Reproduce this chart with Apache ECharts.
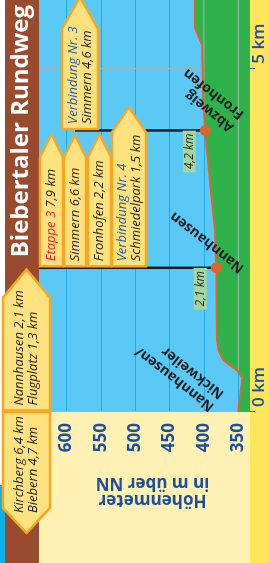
<!DOCTYPE html>
<html lang="de">
<head>
<meta charset="UTF-8">
<title>Biebertaler Rundweg – Höhenprofil</title>
<script src="https://cdn.jsdelivr.net/npm/echarts@6.0.0/dist/echarts.min.js"></script>
<style>
  html, body { margin: 0; padding: 0; width: 269px; height: 563px; overflow: hidden; background: #fff; }
  /* the profile is drawn landscape and turned a quarter to the left, like on the printed sign */
  #chart {
    position: absolute; left: 0; top: 0;
    width: 563px; height: 269px;
    transform-origin: 0 0;
    transform: translate(0, 563px) rotate(-90deg);
  }
</style>
</head>
<body>
<div id="chart"></div>
<script>
// Höhenprofil
const distKm = [0, 0.28, 0.5, 0.6, 0.76, 0.9, 1.05, 2.1, 2.65, 3.24, 3.97, 4.1, 4.55, 5.35, 5.6, 6.0];
const elevM  = [350, 347, 344, 351, 372, 379, 381, 382, 384, 390, 397, 398, 401, 403, 413, 413];

// Punkte mit Wegweiser
const markerKm   = [2.1, 4.1];
const markerElev = [382, 398];
const markerText = ['2,1 km', '4,2 km'];

// Ortsnamen
const placeKm    = [0, 2.1, 4.1];
const placeElev  = [350, 382, 398];
const placeNames = ['Nannhausen/\nNickweiler', 'Nannhausen', 'Abzweig\nFronhofen'];

// Achsen
const elevTicks    = [350, 400, 450, 500, 550, 600];
const kmTicks      = [0, 5];
const kmTickLabels = ['0 km', '5 km'];

// Wegweiser-Schilder
const signTexts = [
  'Kirchberg 6,4 km\nBiebern 4,7 km',
  'Nannhausen 2,1 km\nFlugplatz 1,3 km',
  '{red|Etappe 3} 7,9 km',
  'Simmern 6,6 km',
  'Fronhofen 2,2 km',
  '{blue|Verbindung Nr. 4}\nSchmiedelpark 1,5 km',
  '{blue|Verbindung Nr. 3}\nSimmern 4,6 km'
];
const signKm  = [0, 0, 2.1, 2.1, 2.1, 2.1, 4.1];
const signDir = [-1, 1, 1, 1, 1, 1, 1];

const FONT = '"Open Sans", "DejaVu Sans", sans-serif';
const BLUE = '#1d4f9f';

// layout of the signs: top, height, body length, tip length (px)
const signBoxes = [
  [3, 47, 96, 25],
  [3, 47, 113, 28],
  [40, 23, 109, 23],
  [64, 22, 109, 22],
  [88, 23, 109, 23],
  [112, 34, 134, 25],
  [62, 36, 100, 32]
];
// where the black post line ends at the top (px), one per marker
const connectorTop = [39, 75];
// label offsets from their point (px)
const placeOffset = [[10, -21], [-2, 26], [8, 32]];

// grey grid lines where they run through the ground
const groundLines = [];
elevTicks.forEach(function (level) {
  for (let i = 0; i < distKm.length - 1; i++) {
    const x0 = distKm[i], x1 = distKm[i + 1], y0 = elevM[i], y1 = elevM[i + 1];
    if (y0 < level && y1 < level) continue;
    const cross = y1 === y0 ? x0 : x0 + (level - y0) / (y1 - y0) * (x1 - x0);
    groundLines.push([y0 >= level ? x0 : cross, y1 >= level ? x1 : cross, level]);
  }
});

const signText = { fontStyle: 'italic', fontSize: 13, fontFamily: FONT, lineHeight: 14 };
const signRich = {
  red: Object.assign({ fill: '#ec1c24', color: '#ec1c24' }, signText),
  blue: Object.assign({ fill: '#1f5bb0', color: '#1f5bb0' }, signText)
};

function renderSign(params, api) {
  const i = params.dataIndex;
  const d = signDir[i];
  // posts pointing forward sit just right of their black line
  const base = api.coord([signKm[i], 500])[0] + (d > 0 ? 1.5 : 0);
  const b = signBoxes[i];
  const top = b[0], h = b[1];
  const end = base + d * b[2];
  const mid = top + h / 2;
  const pts = [[base, top], [end, top], [end + d * b[3], mid], [end, top + h], [base, top + h]];
  return {
    type: 'group',
    children: [
      {
        type: 'polygon',
        shape: { points: pts },
        style: { fill: '#ffe27e', stroke: '#f6a623', lineWidth: 2.5 }
      },
      {
        type: 'text',
        x: d > 0 ? base + 5 : end - 5,
        y: mid,
        style: Object.assign({
          text: signTexts[i], rich: signRich, fill: '#1e1e1e',
          align: 'left', verticalAlign: 'middle'
        }, signText)
      }
    ]
  };
}

function renderConnector(params, api) {
  const i = params.dataIndex;
  const p = api.coord([markerKm[i], markerElev[i]]);
  return {
    type: 'line',
    shape: { x1: p[0], y1: p[1], x2: p[0], y2: connectorTop[i] },
    style: { stroke: '#1e1e1e', lineWidth: 2.5 }
  };
}

function renderPlace(params, api) {
  const i = params.dataIndex;
  const p = api.coord([placeKm[i], placeElev[i]]);
  return {
    type: 'text',
    x: p[0] + placeOffset[i][0],
    y: p[1] + placeOffset[i][1],
    rotation: 52 * Math.PI / 180,
    style: {
      text: placeNames[i], fill: '#1e1e1e', fontWeight: 'bold', fontSize: 14,
      fontFamily: FONT, lineHeight: 16, align: 'left', verticalAlign: 'middle'
    }
  };
}

function renderGround(params, api) {
  const a = api.coord([api.value(0), api.value(2)]);
  const b = api.coord([api.value(1), api.value(2)]);
  return {
    type: 'line',
    shape: { x1: a[0], y1: a[1], x2: b[0], y2: b[1] },
    style: { stroke: '#a9b8a9', lineWidth: 1 }
  };
}

const chart = echarts.init(document.getElementById('chart'));

chart.setOption({
  animation: false,
  backgroundColor: '#ffffff',
  title: {
    text: 'Biebertaler Rundweg',
    right: 5,
    top: 9,
    padding: 0,
    textStyle: { color: '#ffffff', fontSize: 24, fontWeight: 'bold', fontFamily: FONT }
  },
  grid: {
    left: 151, right: 0, top: 39, bottom: 19,
    show: true, backgroundColor: '#5bc9f5', borderWidth: 0,
    outerBoundsMode: 'none'
  },
  xAxis: {
    type: 'value',
    min: 0,
    max: 6,
    interval: 5,
    axisLine: { show: false },
    axisTick: { show: true, length: 5, lineStyle: { color: '#40608f', width: 1 } },
    axisLabel: {
      align: 'left',
      margin: 1,
      padding: [0, 0, 0, 5],
      color: BLUE,
      fontSize: 17,
      fontWeight: 600,
      fontFamily: FONT,
      formatter: function (v) {
        const k = kmTicks.indexOf(v);
        return k < 0 ? '' : kmTickLabels[k];
      }
    },
    splitLine: { show: true, lineStyle: { color: '#9ab4c4', width: 1 } }
  },
  yAxis: {
    type: 'value',
    min: 333,
    max: 640,
    splitNumber: 6,
    axisLine: { show: false },
    axisTick: { show: false },
    axisLabel: {
      margin: 11,
      padding: [0, 0, 5, 0],
      color: BLUE,
      fontSize: 17,
      fontWeight: 'bold',
      fontFamily: FONT,
      formatter: function (v) { return elevTicks.indexOf(v) < 0 ? '' : String(v); }
    },
    splitLine: { show: true, showMinLine: false, showMaxLine: false, lineStyle: { color: '#1eaae4', width: 1 } },
    name: 'Höhenmeter\nin m über NN',
    nameLocation: 'middle',
    nameRotate: 90,
    nameGap: 62,
    nameTextStyle: {
      color: BLUE, fontSize: 17, fontWeight: 'bold', fontFamily: FONT,
      lineHeight: 17, padding: [0, 16, 0, 0]
    }
  },
  graphic: {
    elements: [
      { type: 'rect', z: -10, shape: { x: 0, y: 0, width: 78, height: 5 }, style: { fill: '#12aee6' } },
      { type: 'rect', z: -10, shape: { x: 0, y: 5, width: 563, height: 34 }, style: { fill: '#984b2e' } },
      { type: 'rect', z: -10, shape: { x: 0, y: 39, width: 151, height: 211 }, style: { fill: '#fff1b3' } },
      { type: 'rect', z: -10, shape: { x: 0, y: 250, width: 563, height: 19 }, style: { fill: '#ffe55c' } }
    ]
  },
  series: [
    {
      type: 'line',
      name: 'Gelände',
      data: distKm.map(function (k, i) { return [k, elevM[i]]; }),
      symbol: 'none',
      lineStyle: { width: 0 },
      areaStyle: { color: '#2eb34c', opacity: 1 },
      silent: true,
      z: 1
    },
    {
      type: 'custom',
      name: 'Raster im Gelände',
      renderItem: renderGround,
      data: groundLines,
      silent: true,
      z: 2
    },
    {
      type: 'line',
      name: 'Höhe',
      data: distKm.map(function (k, i) { return [k, elevM[i]]; }),
      symbol: 'none',
      lineStyle: { color: '#e0632b', width: 2 },
      silent: true,
      z: 3
    },
    {
      type: 'custom',
      name: 'Pfosten',
      renderItem: renderConnector,
      data: markerKm.map(function (k, i) { return [k, markerElev[i]]; }),
      silent: true,
      z: 4
    },
    {
      type: 'scatter',
      name: 'Wegpunkte',
      data: markerKm.map(function (k, i) { return [k, markerElev[i]]; }),
      symbolSize: 11,
      itemStyle: { color: '#e0632b', opacity: 1 },
      label: {
        show: true,
        position: 'inside',
        offset: [-21, -16],
        formatter: function (p) { return markerText[p.dataIndex]; },
        backgroundColor: '#a3d6a3',
        padding: [1, 3, 0, 3],
        color: '#2a2a2a',
        fontStyle: 'italic',
        fontSize: 12,
        fontFamily: FONT
      },
      silent: true,
      z: 5
    },
    {
      type: 'custom',
      name: 'Wegweiser',
      renderItem: renderSign,
      data: signKm.map(function (k, i) { return [k, i]; }),
      silent: true,
      z: 6
    },
    {
      type: 'custom',
      name: 'Orte',
      renderItem: renderPlace,
      data: placeKm.map(function (k, i) { return [k, placeElev[i]]; }),
      silent: true,
      z: 7
    }
  ]
});
</script>
</body>
</html>
